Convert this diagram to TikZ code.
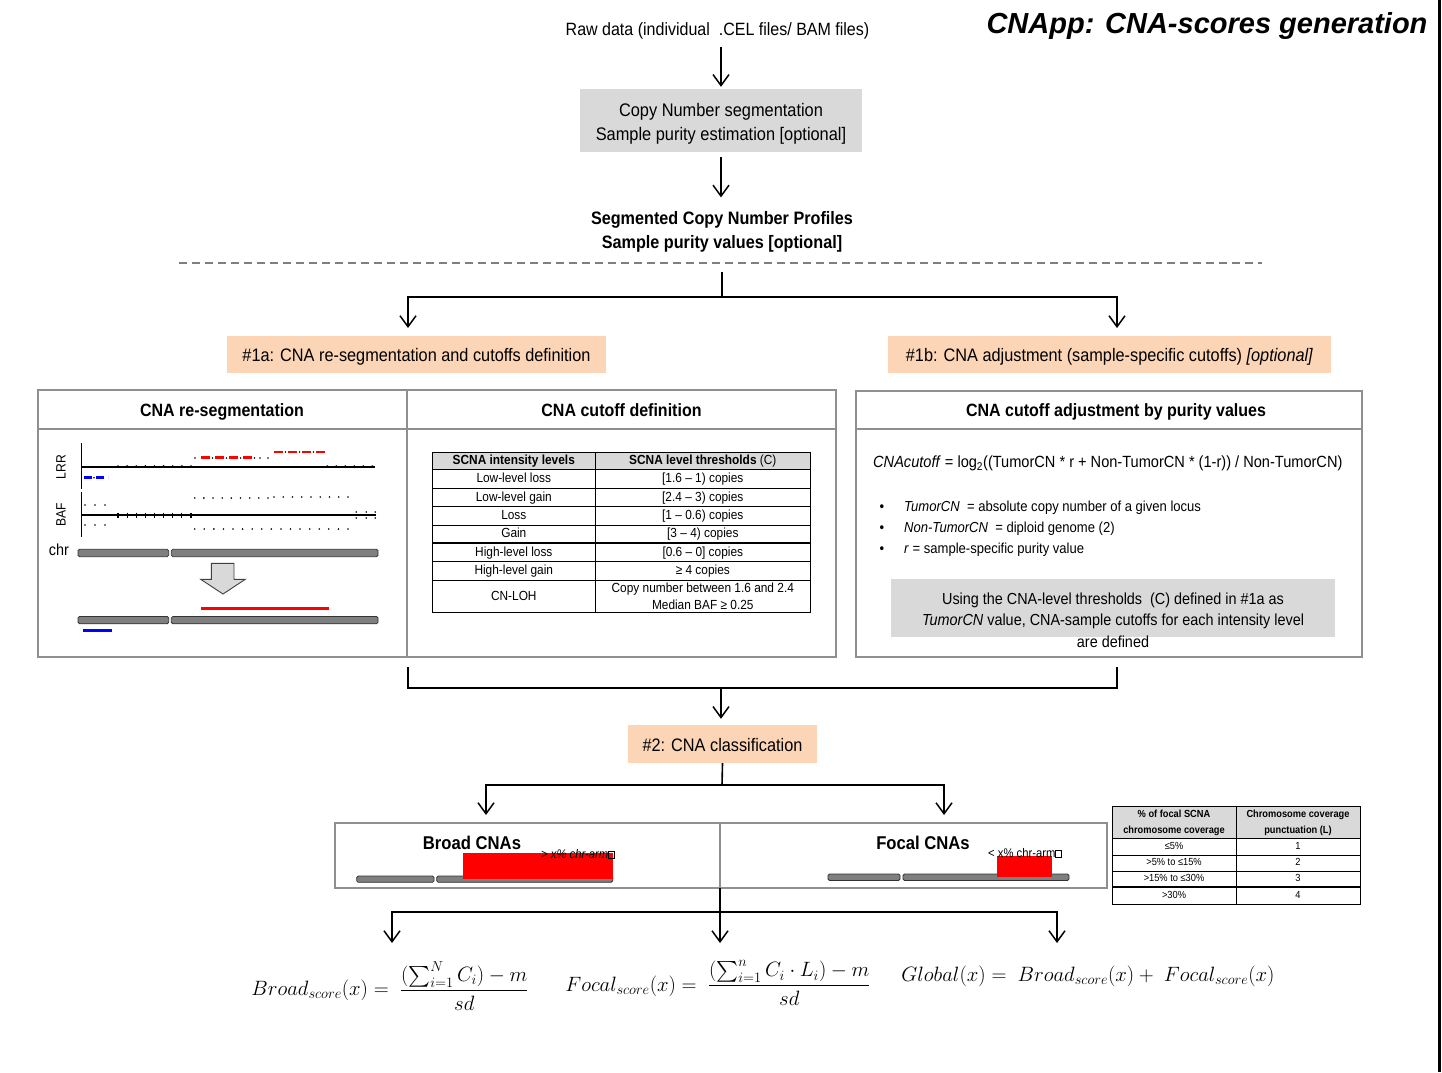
\documentclass[tikz,border=0pt]{standalone}
\usepackage{exscale}
\usepackage[no-math]{fontspec}
\setmainfont{Liberation Sans}
\newfontfamily\nf[FakeStretch=0.9]{Liberation Sans}
\usetikzlibrary{arrows.meta}
\definecolor{peach}{HTML}{FBD5B5}
\definecolor{lgray}{HTML}{D9D9D9}
\definecolor{pgray}{HTML}{8F8F8F}
\definecolor{bargray}{HTML}{7F7F7F}
\definecolor{dgray}{HTML}{7F7F7F}
\newcommand{\fsz}[2]{\fontsize{#1}{#2}\selectfont}
\newcommand{\tofu}{{\setlength{\fboxsep}{0pt}\setlength{\fboxrule}{0.6pt}\fbox{\rule{0pt}{7pt}\hspace{5pt}}}}
\begin{document}
\begin{tikzpicture}[x=1pt,y=-1pt,
 conn/.style={line width=1.6pt},
 arr/.style={line width=1.6pt,-{Straight Barb[length=11pt,width=16pt,line width=1.5pt]}},
 txt/.style={inner sep=0pt,align=center},
 graybox/.style={fill=lgray,draw=none,inner sep=0pt,align=center},
 peachbox/.style={fill=peach,draw=none,inner sep=0pt,align=center,text height=15pt,text depth=1pt},
 panel/.style={draw=pgray,line width=1.3pt},
 bar/.style={fill=bargray,draw=black!80,line width=0.8pt,rounded corners=1.5pt},
 bodyf/.style={font={\nf\fsz{18.1}{22}}},
 tabf/.style={font={\nf\fsz{13.2}{17}}},
 ftabf/.style={font={\nf\fsz{10.3}{16}}},
 row/.style={txt,text height=9pt,text depth=2.5pt},
 frow/.style={txt,text height=7pt,text depth=2pt},
 ptitle/.style={txt,font={\nf\bfseries\fsz{17.8}{21}},text height=13pt,text depth=4pt},
]
\useasboundingbox (0,0) rectangle (1442,1072);
\fill[white] (0,0) rectangle (1442,1072);
\draw[line width=3pt] (1439.5,0) -- (1439.5,1072);

% ---------- top ----------
\node[txt,font={\bfseries\itshape\fsz{29}{34}}] (title) at (1207,26) {CNApp: CNA-scores generation};
\node[txt,font={\nf\fsz{17.8}{21}}] (raw) at (717.5,31) {Raw data (individual\ \ .CEL files/ BAM files)};
\node[graybox,minimum width=282pt,minimum height=63pt] (seg) at (721,120.5) {};
\node[txt,font={\nf\fsz{18.2}{24}}] (segtxt) at (721,123.5) {Copy Number segmentation\\Sample purity estimation [optional]};
\node[txt,font={\nf\bfseries\fsz{18}{24}}] (prof) at (722,232) {Segmented Copy Number Profiles\\Sample purity values [optional]};
\draw[arr,shorten <=8pt,shorten >=2pt] (raw.south -| seg.north) -- (seg.north);
\draw[arr,shorten <=5pt,shorten >=14pt] (seg.south) -- (seg.south |- prof.north);
\draw[dgray,line width=1.6pt,dash pattern=on 8pt off 5pt] (179,263) -- (1262,263);

% ---------- branch 1 ----------
\coordinate (br1) at (722,297);
\coordinate (a1t) at (408,328);
\coordinate (b1t) at (1117,328);
\draw[conn,shorten <=19pt] (prof.south) -- (prof.south |- br1);
\draw[arr] (br1) -| (a1t);
\draw[arr] (br1) -| (b1t);
\node[peachbox,minimum width=379pt,minimum height=37pt,bodyf] (s1a) at (416.5,354.5) {\#1a: CNA re-segmentation and cutoffs definition};
\node[peachbox,minimum width=443pt,minimum height=37pt,bodyf] (s1b) at (1109.5,354.5) {\#1b: CNA adjustment (sample-specific cutoffs) \textit{[optional]}};

% ---------- panels ----------
\draw[panel] (38,390) rectangle (836,657);
\draw[panel] (407,390) -- (407,657);
\draw[panel] (38,429) -- (836,429);
\draw[panel] (856,391) rectangle (1362,657);
\draw[panel] (856,429) -- (1362,429);
\node[ptitle] (t1) at (222,411.5) {CNA re-segmentation};
\node[ptitle] (t2) at (621.5,411.5) {CNA cutoff definition};
\node[ptitle] (t3) at (1116,411.5) {CNA cutoff adjustment by purity values};

% ---------- re-segmentation graphic ----------
\node[txt,rotate=90,font={\nf\fsz{13.5}{16}}] (lrr) at (61,467) {LRR};
\node[txt,rotate=90,font={\nf\fsz{13.5}{16}}] (baf) at (61,515) {BAF};
\node[txt,font={\nf\fsz{16}{18}}] (chr) at (59,550) {chr};
\draw[line width=1.2pt] (81.5,443) -- (81.5,489);
\draw[line width=1.2pt] (81.5,467) -- (375,467);
\draw[line width=1.2pt] (81.5,492) -- (81.5,537);
\draw[line width=1.2pt] (81.5,515) -- (376,515);
% LRR
\draw[blue,line width=2.5pt,dash pattern=on 8pt off 4pt] (84,477.7) -- (108,477.7);
\fill (94,477.7) circle (0.9pt);
\foreach \i in {0,...,8} \fill ({118+9.125*\i},466) circle (0.9pt);
\foreach \i in {0,...,5} \fill ({327.3+9*\i},466) circle (0.9pt);
\foreach \x in {195,212.5,226.5,240.5,254.5,260,268} \fill (\x,458) circle (0.9pt);
\draw[red,line width=2.5pt,dash pattern=on 9pt off 5pt] (201,457.7) -- (256,457.7);
\foreach \x in {285.5,299.5,313.5} \fill (\x,452) circle (0.9pt);
\draw[red,line width=2.5pt,dash pattern=on 9pt off 5pt] (274,452) -- (329,452);
% BAF
\foreach \x in {85,95,105} {\fill (\x,505) circle (0.9pt); \fill (\x,525) circle (0.9pt);}
\foreach \i in {0,...,8} \draw[line width=1.2pt] ({118+9.125*\i},512.5) -- ({118+9.125*\i},517.5);
\foreach \i in {0,...,8} \fill ({194.7+9.16*\i},498) circle (0.9pt);
\foreach \i in {0,...,8} \fill ({274+9.25*\i},497) circle (0.9pt);
\foreach \i in {0,...,16} \fill ({194.7+9.58*\i},529) circle (0.9pt);
\foreach \x in {356.3,366.3,375.3} {\fill (\x,512) circle (0.9pt); \fill (\x,518) circle (0.9pt);}
% chromosomes
\draw[bar] (78,549.3) rectangle (168.7,556.7);
\draw[bar] (171.3,549.3) rectangle (378,556.7);
\draw[fill=lgray,draw=black!75,line width=0.9pt] (211.3,563.3) -- (234,563.3) -- (234,579.3) -- (245.3,579.3) -- (223,594) -- (200.7,579.3) -- (211.3,579.3) -- cycle;
\draw[red,line width=3pt] (201.3,608.3) -- (329,608.3);
\draw[bar] (78,616.5) rectangle (168.7,623.8);
\draw[bar] (171.3,616.5) rectangle (378,623.8);
\draw[blue,line width=3pt] (83,630.7) -- (112,630.7);

% ---------- cutoff table ----------
\fill[lgray] (432.3,452.7) rectangle (810.3,469.3);
\draw[line width=1pt] (432.3,452.7) rectangle (810.3,612.7);
\draw[line width=1pt] (595.3,452.7) -- (595.3,612.7);
\foreach \y in {469.3,488.3,506.7,525,561.7,580} \draw[line width=0.9pt] (432.3,\y) -- (810.3,\y);
\draw[line width=1.8pt] (432.3,543.3) -- (810.3,543.3);
\node[row,tabf] (h1) at (513.8,461.5) {\bfseries SCNA intensity levels};
\node[row,tabf] (h2) at (702.8,461.5) {\textbf{SCNA level thresholds} (C)};
\node[row,tabf] (l1) at (513.8,479.5) {Low-level loss};
\node[row,tabf] (v1) at (702.8,479.5) {[1.6 – 1) copies};
\node[row,tabf] (l2) at (513.8,498) {Low-level gain};
\node[row,tabf] (v2) at (702.8,498) {[2.4 – 3) copies};
\node[row,tabf] (l3) at (513.8,516.4) {Loss};
\node[row,tabf] (v3) at (702.8,516.4) {[1 – 0.6) copies};
\node[row,tabf] (l4) at (513.8,534.7) {Gain};
\node[row,tabf] (v4) at (702.8,534.7) {[3 – 4) copies};
\node[row,tabf] (l5) at (513.8,553) {High-level loss};
\node[row,tabf] (v5) at (702.8,553) {[0.6 – 0] copies};
\node[row,tabf] (l6) at (513.8,571.4) {High-level gain};
\node[row,tabf] (v6) at (702.8,571.4) {≥ 4 copies};
\node[row,tabf] (l7) at (513.8,596.9) {CN-LOH};
\node[txt,tabf] (v7) at (702.8,596.4) {Copy number between 1.6 and 2.4\\Median BAF ≥ 0.25};

% ---------- purity panel ----------
\node[txt,anchor=base west,font={\nf\fsz{16.2}{20}}] (cfor) at (873,467.8) {\textit{CNAcutoff} = log\textsubscript{2}((TumorCN * r + Non-TumorCN * (1-r)) / Non-TumorCN)};
\node[txt,anchor=base,font={\nf\fsz{14.5}{18}}] (bu1) at (882,511) {•};
\node[txt,anchor=base,font={\nf\fsz{14.5}{18}}] (bu2) at (882,532) {•};
\node[txt,anchor=base,font={\nf\fsz{14.5}{18}}] (bu3) at (882,553) {•};
\node[txt,anchor=base west,font={\nf\fsz{14.5}{18}}] (bt1) at (904,511) {\textit{TumorCN}\ \ = absolute copy number of a given locus};
\node[txt,anchor=base west,font={\nf\fsz{14.5}{18}}] (bt2) at (904,532) {\textit{Non-TumorCN}\ \ = diploid genome (2)};
\node[txt,anchor=base west,font={\nf\fsz{14.5}{18}}] (bt3) at (904,553) {\textit{r} = sample-specific purity value};
\node[graybox,minimum width=444pt,minimum height=58pt] (cbox) at (1113,608) {};
\node[txt,font={\nf\fsz{16}{21.5}}] (ctxt) at (1113,620) {Using the CNA-level thresholds\ \ (C) defined in \#1a as\\\textit{TumorCN} value, CNA-sample cutoffs for each intensity level\\are defined};

% ---------- merge ----------
\coordinate (j1) at (408,667);
\coordinate (j2) at (1117,667);
\coordinate (jm) at (721,688);
\draw[conn] (j1) -- ++(0,21) -| (j2);
\node[peachbox,minimum width=189pt,minimum height=38pt,bodyf] (s2) at (722.5,744) {\#2: CNA classification};
\draw[arr,shorten >=6pt] (jm) -- (jm |- s2.north);
\coordinate (k) at (722,785);
\coordinate (bt) at (486,815);
\coordinate (ft) at (944,815);
\draw[conn] (s2.south) -- (k);
\draw[arr] (k) -| (bt);
\draw[arr] (k) -| (ft);

% ---------- broad / focal ----------
\draw[panel] (335,823) rectangle (1107,888);
\draw[panel] (720,823) -- (720,888);
\node[txt,font={\nf\bfseries\fsz{18.5}{22}}] (bro) at (472,843) {Broad CNAs};
\node[txt,font={\nf\bfseries\fsz{18.5}{22}}] (foc) at (923,843) {Focal CNAs};
\draw[bar] (356.7,876) rectangle (434,882.3);
\draw[bar] (436.7,876) rectangle (612.7,882.3);
\fill[red] (463.3,852.7) rectangle (612.7,879);
\node[txt,anchor=west,font={\nf\itshape\fsz{12.5}{14}}] (bl) at (541,854) {> x\% chr-arm\tofu};
\draw[bar] (828,874) rectangle (900,880.5);
\draw[bar] (903,874) rectangle (1069,880.5);
\fill[red] (997,856) rectangle (1052,877.3);
\node[txt,anchor=west,font={\nf\fsz{12.5}{14}}] (fl) at (988,853) {< x\% chr-arm\tofu};

% ---------- focal table ----------
\fill[lgray] (1112,806.7) rectangle (1360,838.3);
\draw[line width=1pt] (1112,806.7) rectangle (1360,904);
\draw[line width=1pt] (1236,806.7) -- (1236,904);
\foreach \y in {838.3,855,871} \draw[line width=0.9pt] (1112,\y) -- (1360,\y);
\draw[line width=1.8pt] (1112,887.3) -- (1360,887.3);
\node[txt,font={\nf\bfseries\fsz{10.3}{16}}] (fh1) at (1174,822.5) {\% of focal SCNA\\chromosome coverage};
\node[txt,font={\nf\bfseries\fsz{10.3}{16}}] (fh2) at (1298,822.5) {Chromosome coverage\\punctuation (L)};
\node[frow,ftabf] (p1) at (1174,846.7) {≤5\%};
\node[frow,ftabf] (q1) at (1298,846.7) {1};
\node[frow,ftabf] (p2) at (1174,863) {>5\% to ≤15\%};
\node[frow,ftabf] (q2) at (1298,863) {2};
\node[frow,ftabf] (p3) at (1174,879.2) {>15\% to ≤30\%};
\node[frow,ftabf] (q3) at (1298,879.2) {3};
\node[frow,ftabf] (p4) at (1174,895.7) {>30\%};
\node[frow,ftabf] (q4) at (1298,895.7) {4};

% ---------- scores ----------
\coordinate (m0) at (720,888);
\coordinate (m1) at (720,912);
\coordinate (e1) at (392,943);
\coordinate (e2) at (720,943);
\coordinate (e3) at (1057,943);
\draw[conn] (m0) -- (m1);
\draw[arr] (m1) -| (e1);
\draw[arr] (m1) -- (e2);
\draw[arr] (m1) -| (e3);
\node[txt,font=\fsz{19.5}{24}] (fbroad) at (390,986) {$\displaystyle Broad_{score}(x) =\ \frac{(\sum_{i=1}^{N} C_i)-m}{sd}$};
\node[txt,font=\fsz{19.5}{24}] (ffocal) at (718,983) {$\displaystyle Focal_{score}(x) =\ \frac{(\sum_{i=1}^{n} C_i\cdot L_i)-m}{sd}$};
\node[txt,font=\fsz{19.5}{24}] (fglobal) at (1088,976) {$Global(x) =\ Broad_{score}(x) +\ Focal_{score}(x)$};
\end{tikzpicture}
\end{document}
